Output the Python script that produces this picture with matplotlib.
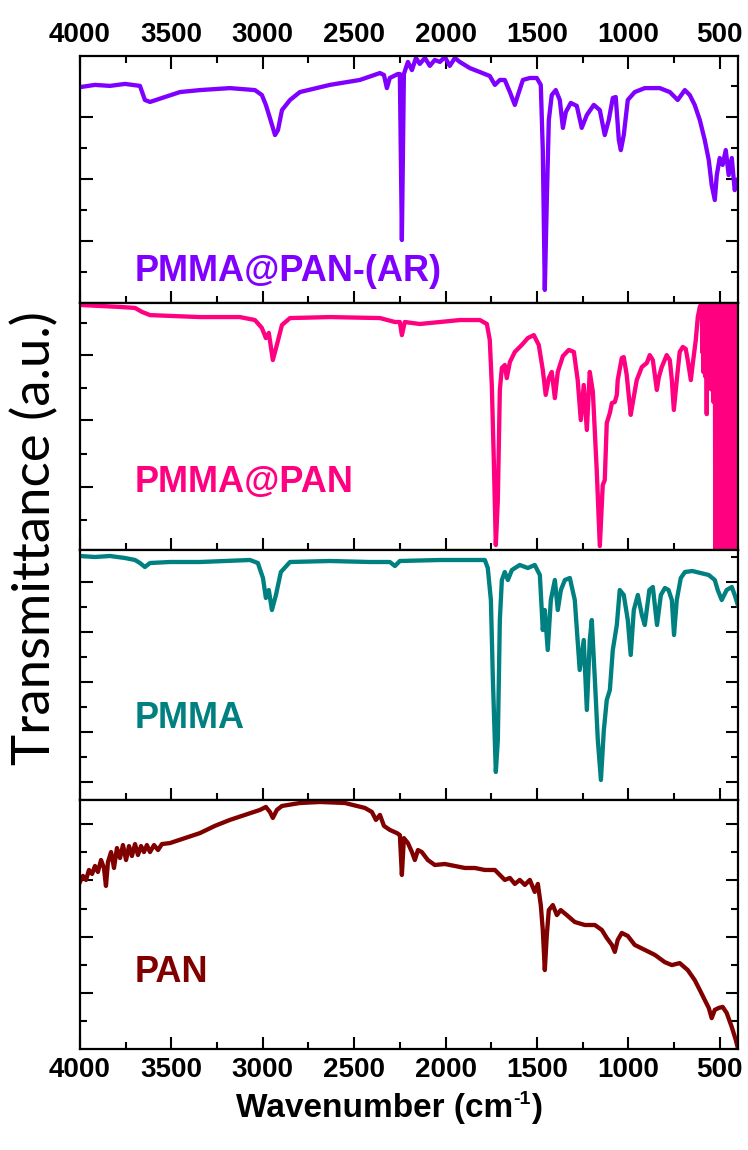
import matplotlib
matplotlib.use("Agg")
import matplotlib.pyplot as plt
from matplotlib.ticker import MultipleLocator, FixedLocator, NullFormatter

# ---------------- data (wavenumber cm-1, transmittance a.u. per panel) -------------
ar_wn = [4000, 3918, 3836, 3754, 3672, 3645, 3617, 3535, 3453, 3344, 3180, 3043, 3005, 2983,
         2961, 2933, 2917, 2895, 2851, 2797, 2633, 2469, 2359, 2337, 2321, 2305, 2261, 2250,
         2239, 2228, 2206, 2184, 2162, 2141, 2113, 2086, 2059, 2031, 2004, 1977, 1949, 1922,
         1867, 1812, 1758, 1730, 1703, 1676, 1648, 1621, 1604, 1577, 1539, 1501, 1479, 1468,
         1457, 1446, 1435, 1419, 1397, 1375, 1358, 1342, 1315, 1282, 1255, 1227, 1189, 1156,
         1129, 1107, 1085, 1069, 1052, 1041, 1025, 1003, 965, 910, 828, 773, 730, 691, 664,
         637, 609, 582, 560, 544, 527, 516, 500, 484, 467, 451, 434, 418, 401]
ar_t = [87.4, 88.3, 87.9, 88.7, 87.9, 82.2, 81.4, 83.4, 85.4, 86.2, 87.0, 86.2, 84.2, 80.2,
        74.9, 68.0, 70.0, 78.1, 82.2, 85.4, 88.3, 90.3, 93.1, 92.3, 87.0, 91.1, 92.7, 92.7,
        25.5, 92.7, 97.6, 94.3, 99.2, 96.8, 99.2, 96.0, 98.4, 97.6, 99.6, 96.0, 99.2, 97.6,
        95.1, 93.5, 91.9, 88.3, 90.3, 90.3, 85.4, 80.2, 84.2, 90.3, 91.1, 91.1, 88.3, 61.9,
        5.3, 41.7, 74.1, 84.2, 86.2, 82.2, 70.9, 77.3, 81.0, 79.8, 70.9, 76.1, 80.2, 78.1,
        68.0, 74.1, 83.0, 83.4, 66.0, 61.9, 68.0, 82.2, 85.4, 87.0, 87.0, 85.4, 82.2, 86.2, 84.2,
        80.2, 74.1, 66.0, 57.9, 47.8, 41.7, 51.8, 58.7, 55.9, 61.9, 51.8, 58.7, 45.7, 49.8]

mp_wn = [4000, 3891, 3781, 3699, 3661, 3617, 3344, 3125, 3043, 3005, 2983, 2967, 2945, 2923,
         2895, 2851, 2633, 2359, 2277, 2250, 2239, 2223, 2141, 2031, 1922, 1812, 1774, 1758,
         1747, 1736, 1725, 1714, 1703, 1692, 1676, 1665, 1648, 1621, 1583, 1550, 1517, 1490,
         1468, 1452, 1435, 1419, 1402, 1386, 1358, 1326, 1298, 1277, 1260, 1244, 1227, 1211,
         1194, 1173, 1156, 1140, 1129, 1118, 1101, 1090, 1074, 1063, 1058, 1036, 1025, 1009,
         987, 976, 954, 926, 899, 883, 866, 844, 833, 817, 790, 773, 762, 751, 735, 719, 702,
         686, 675, 658, 647, 631, 620, 609,
         598, 595, 592, 589, 586, 583, 580, 577, 574, 571, 568, 565, 562, 559, 556, 553, 550,
         547, 544, 541, 538, 535, 532, 529, 527,
         524, 520, 516, 512, 508, 504, 500, 496, 492, 488, 484, 480, 476, 472, 468, 464, 460,
         456, 452, 448, 444, 440, 436, 432, 428, 424, 420, 416, 412, 408, 404, 401]
mp_t = [99.2, 98.8, 98.4, 98.0, 96.4, 95.1, 94.3, 94.3, 93.1, 89.9, 85.8, 87.9, 76.9, 83.0,
        91.1, 93.9, 94.3, 93.9, 92.3, 92.3, 87.0, 92.3, 91.5, 92.3, 93.1, 93.1, 91.5, 85.0,
        66.8, 36.4, 2.0, 20.2, 64.8, 73.7, 74.9, 69.6, 76.1, 80.2, 83.0, 85.8, 87.0, 83.0,
        72.9, 62.8, 69.6, 72.1, 61.5, 72.1, 78.5, 81.0, 80.2, 68.8, 52.6, 66.8, 48.6, 72.1,
        64.0, 32.4, 1.6, 26.3, 28.3, 51.4, 55.5, 59.5, 59.9, 62.8, 68.8, 77.7, 78.1, 70.9,
        54.7, 59.5, 68.8, 74.1, 75.7, 78.9, 76.9, 64.8, 70.0, 74.1, 78.9, 76.9, 68.8, 56.7,
        68.8, 80.2, 82.2, 81.4, 76.9, 68.8, 75.7, 85.0, 94.3, 98.4,
        100, 80, 100, 72, 100, 75, 100, 70, 100, 55, 100, 68, 100, 66, 100, 70, 100,
        65, 100, 68, 100, 60, 100, 62, 100,
        0, 100, 0, 100, 0, 100, 0, 100, 0, 100, 0, 100, 0, 100, 0, 100, 0,
        100, 0, 100, 0, 100, 0, 100, 0, 100, 0, 100, 0, 100, 0, 100]

pm_wn = [4000, 3918, 3836, 3754, 3699, 3672, 3645, 3617, 3508, 3344, 3070, 3027, 2999, 2983,
         2967, 2950, 2928, 2901, 2851, 2633, 2414, 2305, 2277, 2250, 2031, 1785, 1769, 1752,
         1741, 1725, 1714, 1703, 1692, 1676, 1659, 1637, 1594, 1550, 1512, 1484, 1468, 1457,
         1441, 1424, 1402, 1386, 1369, 1347, 1320, 1293, 1266, 1244, 1227, 1211, 1200, 1183,
         1167, 1150, 1134, 1118, 1101, 1085, 1063, 1047, 1025, 1003, 987, 970, 948, 926, 910,
         885, 866, 843, 822, 800, 780, 762, 750, 735, 713, 690, 650, 560, 527, 511, 489, 462,
         434, 418, 401]
pm_t = [97.6, 97.2, 97.6, 96.8, 96.0, 94.8, 93.2, 94.8, 95.2, 95.2, 96.0, 94.8, 88.8, 80.8,
        84.0, 76.0, 82.0, 91.2, 95.2, 95.6, 95.2, 95.2, 93.6, 95.6, 96.0, 96.0, 92.8, 80.0,
        48.0, 11.2, 24.0, 72.0, 88.0, 91.2, 88.0, 92.0, 94.0, 92.8, 94.0, 90.0, 68.0, 76.0,
        60.0, 80.0, 88.0, 76.0, 84.0, 88.0, 88.8, 80.0, 52.0, 64.0, 36.0, 64.0, 72.0, 48.0,
        24.0, 8.0, 28.0, 40.0, 44.0, 60.0, 70.0, 84.0, 82.0, 72.0, 58.0, 76.0, 82.0, 74.0, 70.0,
        84.0, 85.2, 70.0, 82.0, 84.8, 84.0, 80.0, 66.0, 80.0, 88.8, 91.2, 91.6, 90.0, 88.0,
        84.0, 80.0, 84.0, 85.2, 82.0, 78.0]

pan_wn = [4000, 3984, 3967, 3951, 3934, 3918, 3902, 3885, 3869, 3858, 3847, 3830, 3814, 3798,
          3781, 3765, 3748, 3732, 3716, 3699, 3683, 3666, 3650, 3634, 3617, 3595, 3573, 3552,
          3508, 3426, 3344, 3262, 3180, 3098, 3016, 2983, 2961, 2945, 2923, 2895, 2797, 2687,
          2551, 2441, 2403, 2381, 2359, 2337, 2305, 2266, 2250, 2239, 2228, 2206, 2184, 2168,
          2151, 2130, 2097, 2059, 2004, 1949, 1894, 1840, 1785, 1730, 1703, 1676, 1648, 1621,
          1594, 1566, 1539, 1512, 1495, 1479, 1468, 1457, 1446, 1435, 1413, 1391, 1370, 1337,
          1293, 1238, 1183, 1145, 1118, 1090, 1074, 1058, 1036, 1003, 965, 910, 855, 801, 762,
          719, 675, 637, 609, 582, 560, 544, 527, 505, 484, 462, 434, 412, 401]
pan_t = [67.1, 69.5, 67.9, 71.9, 70.3, 73.5, 71.1, 75.9, 72.7, 65.5, 75.1, 79.1, 72.7, 80.7,
         76.7, 81.9, 75.9, 81.5, 77.5, 82.3, 77.9, 81.5, 79.1, 81.9, 79.1, 81.9, 79.9, 82.3,
         82.7, 84.7, 86.7, 89.6, 92.0, 94.0, 96.0, 97.2, 95.2, 92.8, 96.0, 97.6, 98.8, 99.2,
         98.8, 96.8, 95.2, 92.0, 94.0, 89.6, 88.0, 86.7, 85.9, 69.9, 84.7, 82.7, 79.1, 75.9,
         79.9, 79.1, 75.9, 73.9, 74.3, 73.5, 72.7, 72.7, 71.9, 71.9, 69.9, 67.9, 68.7, 66.3,
         67.9, 65.9, 67.9, 63.1, 66.3, 57.8, 47.8, 31.7, 45.8, 55.8, 57.8, 53.8, 55.8, 53.8,
         51.0, 49.8, 49.8, 47.8, 44.6, 41.8, 39.0, 43.8, 46.6, 45.4, 41.8, 39.8, 37.8, 34.9, 33.7,
         34.5, 31.7, 27.7, 23.7, 19.7, 16.5, 12.4, 15.7, 16.5, 16.9, 14.5, 8.8, 3.6, 0.4]

names = ["PMMA@PAN-(AR)", "PMMA@PAN", "PMMA", "PAN"]
colors = ["#8000FF", "#FF0080", "#008080", "#800000"]
series = [(ar_wn, ar_t), (mp_wn, mp_t), (pm_wn, pm_t), (pan_wn, pan_t)]
x_ticks = [4000, 3500, 3000, 2500, 2000, 1500, 1000, 500]

# ---------------- style / layout ----------------
W, H = 748, 1150
fig = plt.figure(figsize=(W / 100, H / 100), dpi=100)
left, right = 80 / W, 738 / W
edges = [56, 303, 550, 800, 1049]
label_y = [0.126, 0.275, 0.328, 0.309]
ymaj = [[25.1, 50.2, 75.3], [25.5, 52.6, 78.9], [7.2, 27.2, 47.2, 67.2, 87.2], [22.5, 45.0, 67.9, 90.4]]
ymin_ = [[12.5, 37.6, 62.7, 87.8], [12.1, 39.0, 65.7, 92.1], [17.2, 37.2, 57.2, 77.2, 97.2],
         [11.2, 33.7, 56.4, 79.1]]
bold = dict(family="Liberation Sans", fontweight="bold")

axes = []
for i in range(4):
    top_px, bot_px = edges[i], edges[i + 1]
    ax = fig.add_axes([left, 1 - bot_px / H, right - left, (bot_px - top_px) / H])
    axes.append(ax)
    wn, t = series[i]
    ax.plot(wn, t, color=colors[i], lw=3.1, solid_joinstyle="round")
    ax.set_xlim(4000, 400)
    ax.set_ylim(0, 100)
    ax.xaxis.set_major_locator(FixedLocator(x_ticks))
    ax.xaxis.set_minor_locator(MultipleLocator(250))
    ax.yaxis.set_major_locator(FixedLocator(ymaj[i]))
    ax.yaxis.set_minor_locator(FixedLocator(ymin_[i]))
    ax.yaxis.set_major_formatter(NullFormatter())
    for s in ax.spines.values():
        s.set_linewidth(1.6)
    ax.tick_params(which="major", direction="in", length=9, width=1.5,
                   top=(i == 0), bottom=True, left=True, right=True,
                   labeltop=(i == 0), labelbottom=(i == 3), labelleft=False, pad=6)
    ax.tick_params(which="minor", direction="in", length=5, width=1.5,
                   top=(i == 0), bottom=True, left=True, right=True)
    for lab in ax.get_xticklabels():
        lab.set_fontfamily("Liberation Sans")
        lab.set_fontweight("bold")
        lab.set_fontsize(20)
    ax.text(0.083, label_y[i], names[i], transform=ax.transAxes, color=colors[i],
            fontsize=26, va="center", ha="left", **bold)

# x-axis title with a hyphen-style superscript, as in the reference
t1 = fig.text(236 / W, 1 - 1117 / H, "Wavenumber (cm", fontsize=24, ha="left",
              va="baseline", **bold)
t2 = axes[3].annotate("-1", xy=(1.0, 1.07), xycoords=t1, fontsize=14, ha="left",
                      va="top", annotation_clip=False, **bold)
t3 = axes[3].annotate(")", xy=(1.0, 0.0), xycoords=(t2, t1), fontsize=24, ha="left",
                      va="bottom", annotation_clip=False, **bold)

fig.text(35 / W, 1 - 538 / H, "Transmittance (a.u.)", rotation=90, fontsize=38,
         family="Lato", ha="center", va="center")

fig.savefig("out.png", dpi=100)
